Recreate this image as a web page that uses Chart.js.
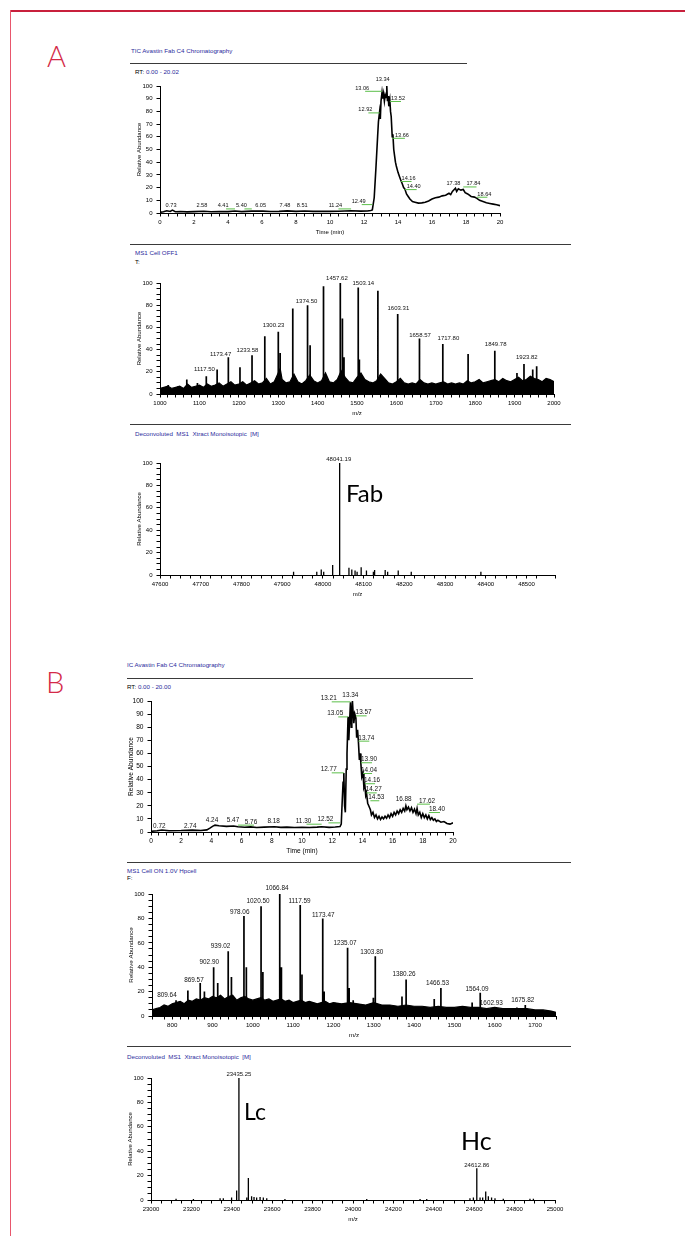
<!DOCTYPE html>
<html>
<head>
<meta charset="utf-8">
<script src="https://cdn.jsdelivr.net/npm/chart.js@4.4.1/dist/chart.umd.min.js"></script>
<style>
body{margin:0;background:#fff;width:685px;height:1236px;position:relative;overflow:hidden;font-family:"Liberation Sans",Arial,sans-serif}
canvas{position:absolute}
.frame-top{position:absolute;left:10px;top:10px;width:675px;height:1.5px;background:#c8203c}
.frame-left{position:absolute;left:9.5px;top:10px;width:1.5px;height:1226px;background:#e8566c}
.rule{position:absolute;height:1.5px;background:#3a3a3a}
.t{position:absolute;font-size:6.2px;line-height:1;color:#2b2b9c;white-space:nowrap}
.k{color:#000}
.b{color:#2b2b9c}
.big{position:absolute;font-family:Lato,"Open Sans",sans-serif;line-height:1;white-space:nowrap;color:#000}
.let{color:#d42a48;font-weight:300}
</style>
</head>
<body>
<div class="frame-top"></div>
<div class="frame-left"></div>

<div class="big let" style="left:47px;top:41px;font-size:29px">A</div>
<div class="big let" style="left:46px;top:667px;font-size:29px">B</div>

<!-- panel A -->
<div class="t" style="left:131px;top:48px">TIC Avastin Fab C4 Chromatography</div>
<div class="rule" style="left:130px;top:62.5px;width:337px"></div>
<div class="t k" style="left:135px;top:69px">RT: <span class="b">0.00 - 20.02</span></div>
<canvas id="ticA"></canvas>

<div class="rule" style="left:130px;top:243.5px;width:441px"></div>
<div class="t" style="left:135px;top:250px">MS1 Cell OFF1</div>
<div class="t k" style="left:135px;top:259px">T:</div>
<canvas id="msA"></canvas>

<div class="rule" style="left:130px;top:423.5px;width:441px"></div>
<div class="t" style="left:135px;top:431px">Deconvoluted&nbsp; MS1&nbsp; Xtract Monoisotopic&nbsp; [M]</div>
<canvas id="decA"></canvas>
<div class="big" style="left:346px;top:481px;font-size:24px">Fab</div>

<!-- panel B -->
<div class="t" style="left:127px;top:662px">IC Avastin Fab C4 Chromatography</div>
<div class="rule" style="left:127px;top:677.5px;width:346px"></div>
<div class="t k" style="left:127px;top:684px">RT: <span class="b">0.00 - 20.00</span></div>
<canvas id="ticB"></canvas>

<div class="rule" style="left:127px;top:861.5px;width:444px"></div>
<div class="t" style="left:127px;top:868px">MS1 Cell ON 1.0V Hpcell</div>
<div class="t k" style="left:127px;top:875px">F:</div>
<canvas id="msB"></canvas>

<div class="rule" style="left:127px;top:1045.5px;width:444px"></div>
<div class="t" style="left:127px;top:1054px">Deconvoluted&nbsp; MS1&nbsp; Xtract Monoisotopic&nbsp; [M]</div>
<canvas id="decB"></canvas>
<div class="big" style="left:244px;top:1100px;font-size:23px">Lc</div>
<div class="big" style="left:461px;top:1128px;font-size:25px">Hc</div>

<script>
// ---- A: TIC chromatogram (time min, relative abundance)
const ticA = [
  [0,0.5],[0.2,1],[0.4,1.8],[0.6,1.2],[0.73,2.3],[0.9,1.0],[1.2,1.2],[1.6,0.9],[2.0,1.1],[2.58,1.4],
  [3.0,1.0],[3.5,1.2],[4.0,1.1],[4.41,1.6],[4.8,1.1],[5.4,1.5],[6.05,1.5],[6.5,1.2],[7.0,1.3],[7.48,1.7],
  [8.0,1.3],[8.51,1.6],[9.0,1.3],[9.5,1.4],[10.0,1.3],[10.5,1.4],[11.24,1.8],[11.8,1.5],[12.2,1.6],[12.4,2],
  [12.49,2.4],[12.6,12],[12.7,35],[12.8,60],[12.85,72],[12.92,80],[12.96,74],[13.0,88],[13.06,95],[13.1,90],
  [13.15,94],[13.2,88],[13.25,93],[13.3,91],[13.34,100],[13.38,88],[13.42,92],[13.46,84],[13.52,89],[13.56,80],
  [13.6,76],[13.66,60],[13.7,62],[13.75,50],[13.8,45],[13.85,40],[13.9,37],[14.0,32],[14.08,29],[14.16,26],
  [14.25,23],[14.33,20],[14.4,19],[14.5,15],[14.6,13],[14.7,11],[14.85,9],[15.0,8.5],[15.2,7.8],[15.4,8],
  [15.6,8.5],[15.8,9.5],[16.0,11],[16.2,12],[16.4,12.5],[16.6,13.5],[16.8,14],[17.0,15.5],[17.1,14.5],[17.2,17],
  [17.38,19.5],[17.45,17],[17.55,19],[17.7,18],[17.84,18.5],[17.95,16],[18.1,15],[18.3,13],[18.5,12.5],[18.64,11.5],
  [18.8,10],[19.0,9],[19.2,8],[19.4,7.5],[19.6,7],[19.8,6.5],[20.0,5.8]
];
const ticA_labels = [
  ["0.73",0.65,4.4],["2.58",2.46,4.4],["4.41",3.71,4.4],["5.40",4.79,4.4],["6.05",5.92,4.4],
  ["7.48",7.35,4.4],["8.51",8.37,4.4],["11.24",10.32,4.4],["12.49",11.69,7.8],["12.92",12.08,80],
  ["13.06",11.89,97],["13.34",13.1,103.6],["13.52",14.0,89],["13.66",14.23,60],["14.16",14.62,26],
  ["14.40",14.92,19.6],["17.38",17.26,21.7],["17.84",18.44,21.7],["18.64",19.08,13.6]
];

// ---- A: MS1 spectrum (m/z, relative abundance)
const msA_peaks = [
  [1021,8],[1046,7],[1068,13],[1095,10],[1117.5,16],[1145,22],[1173.47,33],[1203,24],[1233.58,35],[1266,52],
  [1300.23,56],[1305,37],[1337,77],[1374.5,80],[1381,44],[1415,97],[1457.62,100],[1463,68],[1467,33],[1503.14,96],
  [1506,31],[1553,93],[1603.31,72],[1658.57,50],[1717.8,45],[1782,36],[1849.78,39],[1906,19],[1923.82,27],[1946,22],[1956,25]
];
const msA_noise = [
  [1000,5],[1010,6],[1020,7],[1030,5],[1040,6],[1050,7],[1060,5],[1070,9],[1080,6],[1090,7],
  [1100,8],[1110,6],[1120,9],[1130,7],[1140,8],[1150,10],[1160,7],[1170,9],[1180,11],[1190,8],
  [1200,9],[1210,11],[1220,8],[1230,10],[1240,12],[1250,9],[1260,10],[1270,14],[1280,9],[1290,11],
  [1300,19],[1305,23],[1310,13],[1320,10],[1330,11],[1340,18],[1350,11],[1360,9],[1370,12],[1380,17],
  [1390,12],[1400,10],[1410,12],[1420,19],[1430,11],[1440,10],[1450,13],[1460,21],[1470,15],[1480,11],
  [1490,10],[1500,15],[1510,19],[1520,13],[1530,11],[1540,10],[1550,12],[1560,18],[1570,14],[1580,10],
  [1590,9],[1600,11],[1610,14],[1620,10],[1630,9],[1640,10],[1650,9],[1660,13],[1670,10],[1680,9],
  [1690,10],[1700,9],[1710,10],[1720,11],[1730,9],[1740,10],[1750,9],[1760,10],[1770,9],[1780,12],
  [1790,10],[1800,11],[1810,13],[1820,10],[1830,11],[1840,12],[1850,13],[1860,11],[1870,14],[1880,12],
  [1890,11],[1900,13],[1910,15],[1920,12],[1930,13],[1940,16],[1950,14],[1960,13],[1970,11],[1980,14],
  [1990,13],[2000,11]
];
const msA_labels = [
  ["1117.50",1113,20.4],["1173.47",1154,34],["1233.58",1222,37.5],["1300.23",1288,60.4],
  ["1374.50",1372,82],["1457.62",1449,102.4],["1503.14",1516,98.5],["1603.31",1605,75.4],
  ["1658.57",1660,51.4],["1717.80",1732,48.3],["1849.78",1852,43],["1923.82",1931,31.5]
];

// ---- A: deconvoluted (mass, relative abundance)
const decA_peaks = [
  [47928,3],[47985,3],[47996,5],[48002,3],[48024,9],[48041.19,100],[48064,6.5],[48071,5],[48079,4],[48084,3],
  [48094,7],[48107,4],[48124,3],[48127,4.5],[48153,4.5],[48159,3],[48185,4],[48217,3],[48388,3]
];
const decA_labels = [["48041.19",48039,101.5]];

// ---- B: TIC chromatogram
const ticB = [
  [0,0.5],[0.4,1.0],[0.72,1.5],[1.2,1.0],[2.0,1.1],[2.74,1.4],[3.3,1.2],[3.7,1.6],[3.9,3],[4.1,4.5],
  [4.24,5.2],[4.5,4.8],[5.0,4.3],[5.47,4.6],[5.76,4.0],[6.2,3.6],[6.6,3.9],[7.0,3.4],[7.5,3.7],[8.18,4.0],
  [8.6,3.5],[9.0,3.7],[9.5,3.4],[10.0,3.6],[10.5,3.4],[11.0,3.7],[11.3,4.0],[11.8,3.5],[12.2,3.8],[12.52,4.2],
  [12.6,6],[12.65,20],[12.72,38],[12.77,45],[12.82,20],[12.87,15],[12.93,48],[12.98,60],[13.05,88],[13.1,70],
  [13.15,84],[13.21,99],[13.26,80],[13.3,90],[13.34,100],[13.38,92],[13.43,83],[13.5,90],[13.57,87],[13.62,72],
  [13.68,78],[13.74,68],[13.8,55],[13.85,60],[13.9,52],[13.96,42],[14.04,45],[14.1,34],[14.16,36],[14.22,28],
  [14.27,30],[14.35,22],[14.42,20],[14.53,17],[14.6,13],[14.7,15],[14.8,11],[14.9,13],[15.0,10],[15.1,12],
  [15.2,9.5],[15.3,11.5],[15.4,10],[15.5,12],[15.6,10.5],[15.7,13],[15.8,11],[15.9,14],[16.0,12],[16.1,15],
  [16.2,13],[16.3,16],[16.4,14],[16.5,17],[16.6,15],[16.7,18],[16.8,16],[16.88,20],[16.95,17],[17.05,19],
  [17.15,16],[17.25,18.5],[17.35,15],[17.45,17.5],[17.55,14],[17.62,18],[17.7,13],[17.8,15],[17.9,11],[18.0,14],
  [18.1,11],[18.2,13],[18.3,10],[18.4,12.5],[18.5,9.5],[18.6,11],[18.7,9],[18.8,10],[18.9,8],[19.0,9],
  [19.2,7.5],[19.4,8],[19.6,6.5],[19.8,6],[20.0,7]
];
const ticB_labels = [
  ["0.72",0.55,3.3],["2.74",2.6,3.3],["4.24",4.04,7.6],["5.47",5.43,7.6],["5.76",6.62,6.4],
  ["8.18",8.12,7.1],["11.30",10.1,7.1],["12.52",11.55,8.1],["12.77",11.77,46.3],["13.05",12.2,89],
  ["13.21",11.77,100.5],["13.34",13.2,103],["13.57",14.08,89.8],["13.74",14.26,70.5],["13.90",14.44,54],
  ["14.04",14.44,45.8],["14.16",14.64,38],["14.27",14.75,31],["14.53",14.92,25],["16.88",16.73,24],
  ["17.62",18.28,22.4],["18.40",18.94,16]
];

// ---- B: MS1 spectrum
const msB_peaks = [
  [809.64,13],[839,21],[869.57,27],[880,20],[902.9,40],[913,27],[939.02,53],[947,32],[978.06,82],[984,40],
  [1020.5,90],[1025,36],[1066.84,100],[1071,40],[1117.59,91],[1122,34],[1173.47,80],[1177,20],[1235.07,56],[1239,23],
  [1249,13],[1299,15],[1303.8,49],[1370,16],[1380.26,30],[1450,14],[1466.53,23],[1544,11],[1564.09,19],[1602.93,7],
  [1655,7],[1675.82,9]
];
const msB_noise = [
  [750,5],[760,6],[770,7],[780,9],[790,8],[800,10],[810,11],[820,12],[830,10],[840,13],
  [850,12],[860,14],[870,13],[880,15],[890,14],[900,16],[910,15],[920,17],[930,14],[940,16],
  [950,17],[960,13],[970,15],[980,16],[990,14],[1000,13],[1010,14],[1020,15],[1030,13],[1040,14],
  [1050,12],[1060,13],[1070,14],[1080,12],[1090,13],[1100,11],[1110,12],[1120,13],[1130,11],[1140,12],
  [1150,11],[1160,10],[1170,11],[1180,12],[1190,10],[1200,11],[1220,10],[1240,11],[1260,10],[1280,9],
  [1300,11],[1320,9],[1340,9],[1360,8],[1380,9],[1400,8],[1420,8],[1440,7],[1460,8],[1480,7],
  [1500,7],[1520,8],[1540,7],[1560,7],[1580,6],[1600,7],[1620,6],[1640,6],[1660,6],[1680,6],
  [1700,5],[1720,5],[1740,4],[1752,3]
];
const msB_labels = [
  ["809.64",787,15.3],["869.57",854,28],["902.90",892,42.6],["939.02",920,55.5],["978.06",967.5,84],
  ["1020.50",1013,92.3],["1066.84",1060,103.3],["1117.59",1116,92.3],["1173.47",1174.6,81],
  ["1235.07",1228.6,58],["1303.80",1295,51],["1380.26",1375,33],["1466.53",1458,25.4],
  ["1564.09",1556,20.8],["1602.93",1591.6,9],["1675.82",1669.5,11.2]
];

// ---- B: deconvoluted
const decB_peaks = [
  [23124,1],[23210,0.8],[23342,1.5],[23358,1.5],[23399,2],[23424,7.7],[23435.25,100],[23474,2],[23482,18],[23498,3],
  [23510,2.5],[23523,2],[23540,2.5],[23556,2],[23573,1.5],[23663,0.8],[24068,0.8],[24332,0.8],[24365,0.8],[24579,1.5],
  [24596,2],[24612.86,26],[24629,2],[24642,2],[24657,7],[24670,3],[24686,2],[24703,1.5],[24744,1],[24876,1],[24893,1]
];
const decB_labels = [["23435.25",23435.25,101.8],["24612.86",24612.86,27.2]];

const FONT = '"Liberation Sans", Arial, sans-serif';

function isMult(v, m) {
  const q = v / m;
  return Math.abs(q - Math.round(q)) < 1e-6;
}

function sticks(peaks) {
  const out = [];
  peaks.forEach(([m, h]) => {
    out.push({x: m, y: 0}, {x: m, y: h}, {x: m, y: null});
  });
  return out;
}

const peakLabels = {
  id: 'peakLabels',
  afterDatasetsDraw(chart, args, opts) {
    const {ctx} = chart;
    const x = chart.scales.x, y = chart.scales.y;
    ctx.save();
    ctx.font = opts.size + 'px ' + FONT;
    ctx.textAlign = 'center';
    ctx.textBaseline = 'alphabetic';
    opts.items.forEach(([txt, px, py]) => {
      const cx = x.getPixelForValue(px);
      const cy = y.getPixelForValue(py);
      if (opts.green) {
        const pk = x.getPixelForValue(parseFloat(txt));
        if (Math.abs(pk - cx) > 5) {
          const a = cx + 3;
          ctx.strokeStyle = '#5cbf4a';
          ctx.lineWidth = 1;
          ctx.beginPath();
          ctx.moveTo(Math.min(a, pk), cy + 1.5);
          ctx.lineTo(Math.max(a, pk), cy + 1.5);
          ctx.stroke();
        }
      }
      ctx.fillStyle = '#111';
      ctx.fillText(txt, cx, cy);
    });
    ctx.restore();
  }
};

function makeChart(id, box, cfg) {
  const yW = 24, padT = 22, padR = 14, xH = 23;
  const c = document.getElementById(id);
  const w = box.r - box.l + yW + padR, h = box.b - box.t + padT + xH;
  c.width = w; c.height = h;
  c.style.left = (box.l - yW) + 'px';
  c.style.top = (box.t - padT) + 'px';
  c.style.width = w + 'px';
  c.style.height = h + 'px';
  const axisFont = {family: FONT, size: cfg.font};
  new Chart(c, {
    type: 'line',
    data: {datasets: cfg.datasets},
    options: {
      responsive: false,
      animation: false,
      devicePixelRatio: 1,
      layout: {padding: {left: 0, top: padT, right: padR, bottom: 0}},
      plugins: {
        legend: {display: false},
        tooltip: {enabled: false},
        peakLabels: {items: cfg.labels, size: cfg.labelSize, green: cfg.green}
      },
      elements: {point: {radius: 0}, line: {tension: 0}},
      scales: {
        x: {
          type: 'linear', min: cfg.xMin, max: cfg.xMax, offset: false,
          afterFit: s => { s.height = xH; },
          ticks: {stepSize: cfg.xStep, autoSkip: false, maxRotation: 0, padding: 2, color: '#000', font: axisFont,
                  callback: v => isMult(v, cfg.xMajor) ? String(v) : ''},
          grid: {drawOnChartArea: false, tickLength: 3.5, color: '#000', lineWidth: 1, offset: false},
          border: {color: '#000', width: 1},
          title: {display: true, text: cfg.xTitle, color: '#000', font: axisFont, padding: 0}
        },
        y: {
          min: 0, max: 100,
          afterFit: s => { s.width = yW; },
          ticks: {stepSize: cfg.yStep, autoSkip: false, padding: 4, color: '#000', font: axisFont,
                  callback: v => isMult(v, cfg.yMajor) ? String(v) : ''},
          grid: {drawOnChartArea: false, tickLength: 3.5, color: '#000', lineWidth: 1},
          border: {color: '#000', width: 1},
          title: {display: true, text: 'Relative Abundance', color: '#000', font: axisFont, padding: 0}
        }
      }
    },
    plugins: [peakLabels]
  });
}

const trace = arr => ({data: arr.map(([x, y]) => ({x, y})), borderColor: '#000', borderWidth: 1.6, pointRadius: 0, fill: false});
const stickSet = (pk, wdt) => ({data: sticks(pk), borderColor: '#000', borderWidth: wdt, pointRadius: 0, spanGaps: false, fill: false});
const noiseSet = arr => ({data: arr.map(([x, y]) => ({x, y})), borderColor: '#000', backgroundColor: '#000', borderWidth: 1.2, pointRadius: 0, fill: 'origin'});

makeChart('ticA', {l: 160, r: 500, t: 86, b: 213}, {
  datasets: [trace(ticA)], labels: ticA_labels, labelSize: 5.6, green: true, font: 6,
  xMin: 0, xMax: 20, xStep: 0.5, xMajor: 2, xTitle: 'Time (min)', yStep: 10, yMajor: 10
});
makeChart('msA', {l: 160, r: 554, t: 283, b: 394}, {
  datasets: [noiseSet(msA_noise), stickSet(msA_peaks, 1.7)], labels: msA_labels, labelSize: 6, green: false, font: 6,
  xMin: 1000, xMax: 2000, xStep: 20, xMajor: 100, xTitle: 'm/z', yStep: 5, yMajor: 20
});
makeChart('decA', {l: 160, r: 555, t: 463, b: 575}, {
  datasets: [stickSet(decA_peaks, 1.3)], labels: decA_labels, labelSize: 6, green: false, font: 6,
  xMin: 47600, xMax: 48570, xStep: 25, xMajor: 100, xTitle: 'm/z', yStep: 5, yMajor: 20
});
makeChart('ticB', {l: 151, r: 453, t: 701, b: 832}, {
  datasets: [trace(ticB)], labels: ticB_labels, labelSize: 6.4, green: true, font: 6.6,
  xMin: 0, xMax: 20, xStep: 0.5, xMajor: 2, xTitle: 'Time (min)', yStep: 10, yMajor: 10
});
makeChart('msB', {l: 152, r: 556, t: 894, b: 1016}, {
  datasets: [noiseSet(msB_noise), stickSet(msB_peaks, 1.7)], labels: msB_labels, labelSize: 6.4, green: false, font: 6.2,
  xMin: 750, xMax: 1752, xStep: 20, xMajor: 100, xTitle: 'm/z', yStep: 5, yMajor: 20
});
makeChart('decB', {l: 151, r: 555, t: 1078, b: 1200}, {
  datasets: [stickSet(decB_peaks, 1.3)], labels: decB_labels, labelSize: 6, green: false, font: 6,
  xMin: 23000, xMax: 25000, xStep: 50, xMajor: 200, xTitle: 'm/z', yStep: 5, yMajor: 20
});
</script>
</body>
</html>
